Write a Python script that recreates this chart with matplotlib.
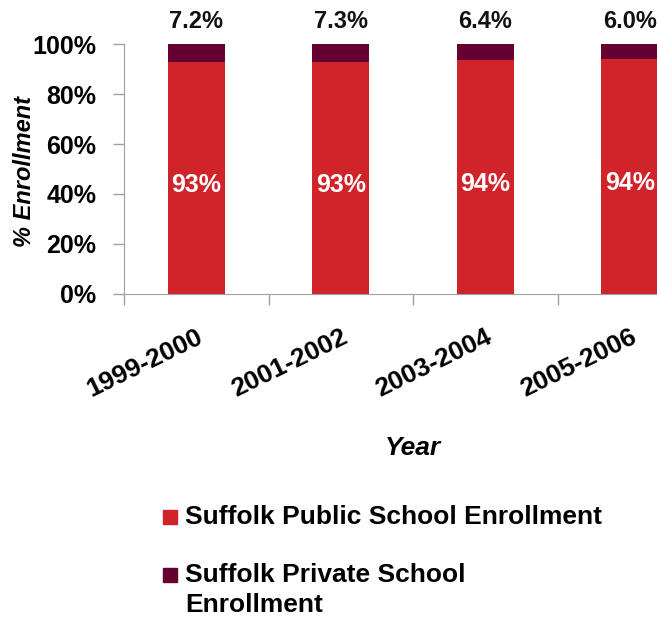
import matplotlib.pyplot as plt
from matplotlib.patches import Rectangle

# school years and enrollment shares (%)
years = ['1999-2000', '2001-2002', '2003-2004', '2005-2006']
public_pct = [92.8, 92.7, 93.6, 94.0]
private_pct = [7.2, 7.3, 6.4, 6.0]
series_names = ['Suffolk Public School Enrollment', 'Suffolk Private School\nEnrollment']
colors = ['#D0232A', '#660033']

plt.rcParams['font.family'] = ['Liberation Sans', 'DejaVu Sans']

W, H = 657, 620
fig = plt.figure(figsize=(W / 100, H / 100), dpi=100)
# plot area runs off the right edge, so the last bar is cut
ax = fig.add_axes([124 / W, 1 - 294 / H, 578 / W, 250 / H])

x = range(len(years))
bw = 0.394
ax.bar(x, public_pct, bw, color=colors[0], zorder=2)
ax.bar(x, private_pct, bw, bottom=public_pct, color=colors[1], zorder=2)

for i, (pu, pr) in enumerate(zip(public_pct, private_pct)):
    ax.annotate(f'{pu:.0f}%', (i, pu / 2), xytext=(0, -5), textcoords='offset points',
                ha='center', va='center', color='white', fontsize=18, fontweight='bold')
    ax.annotate(f'{pr:.1f}%', (i, pu + pr), xytext=(0, 8), textcoords='offset points',
                ha='center', va='bottom', color='#111111', fontsize=17, fontweight='bold')

ax.set_xlim(-0.5, 3.5)
ax.set_ylim(0, 100)
ax.set_yticks(range(0, 101, 20))
ax.set_yticklabels([f'{v}%' for v in range(0, 101, 20)], fontsize=18, fontweight='bold')
ax.set_xticks(list(x))
ax.set_xticklabels(years, fontsize=19, fontweight='bold', rotation=26,
                   ha='right', va='top', rotation_mode='anchor')
ax.set_xticks([-0.5, 0.5, 1.5, 2.5, 3.5], minor=True)
ax.tick_params(axis='x', which='major', length=0, pad=22)
ax.tick_params(axis='x', which='minor', length=8, color='#A0A0A0', width=1)
ax.tick_params(axis='y', length=8, color='#A0A0A0', width=1, pad=12)

for s in ['top', 'right']:
    ax.spines[s].set_visible(False)
for s in ['left', 'bottom']:
    ax.spines[s].set_color('#A0A0A0')

ax.set_xlabel('Year', fontsize=19, fontweight='bold', fontstyle='italic')
ax.xaxis.set_label_coords(0.5, -0.57)
ax.set_ylabel('% Enrollment', fontsize=17, fontweight='bold', fontstyle='italic')
ax.yaxis.set_label_coords(-0.152, 0.49)

# legend, stacked vertically under the chart
for name, c, yc in zip(series_names, colors, [517, 575]):
    fig.add_artist(Rectangle((163 / W, 1 - (yc + 7) / H), 14 / W, 14 / H,
                             transform=fig.transFigure, color=c))
    fig.text(185 / W, 1 - (yc - 12) / H, name, fontsize=19, fontweight='bold',
             va='top', ha='left', linespacing=1.3)

fig.savefig('out.png', dpi=100)
